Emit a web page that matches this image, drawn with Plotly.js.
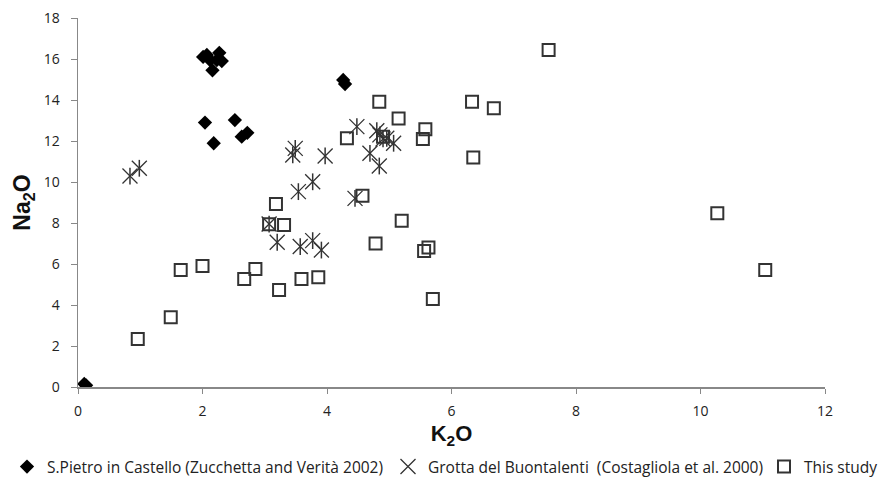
<!DOCTYPE html>
<html>
<head>
<meta charset="utf-8">
<script src="https://cdn.plot.ly/plotly-3.0.1.min.js"></script>
<style>html,body{margin:0;padding:0;background:#fff;}#chart{width:878px;height:479px;}</style>
</head>
<body>
<div id="chart"></div>
<script>
// S.Pietro in Castello (Zucchetta and Verità 2002)
const pietroK2O = [0.10, 0.13, 2.07, 2.27, 2.12, 2.23, 2.16, 2.01, 2.31, 4.26, 4.29, 2.04, 2.52, 2.18, 2.63, 2.72];
const pietroNa2O = [0.15, 0.08, 16.2, 16.3, 15.95, 15.95, 15.45, 16.1, 15.9, 14.98, 14.78, 12.9, 13.02, 11.89, 12.21, 12.4];

// Grotta del Buontalenti (Costagliola et al. 2000)
const grottaK2O = [0.835, 0.985, 4.48, 4.80, 4.85, 4.90, 4.96, 5.07, 4.69, 4.84, 3.49, 3.45, 3.97, 3.77, 3.54, 4.45, 3.07, 3.20, 3.57, 3.77, 3.91];
const grottaNa2O = [10.29, 10.67, 12.7, 12.5, 12.3, 12.1, 12.13, 11.89, 11.4, 10.78, 11.64, 11.32, 11.27, 10.01, 9.53, 9.2, 7.95, 7.06, 6.85, 7.14, 6.68];

// This study
const studyK2O = [0.96, 1.49, 1.65, 2.00, 2.67, 2.85, 3.23, 3.59, 3.86, 3.18, 3.07, 3.31, 4.57, 4.78, 5.20, 4.32, 4.84, 5.15, 4.90, 5.58, 5.54, 6.33, 6.68, 6.35, 5.63, 5.56, 5.70, 7.56, 10.27, 11.04];
const studyNa2O = [2.34, 3.40, 5.71, 5.90, 5.27, 5.76, 4.73, 5.27, 5.35, 8.93, 7.94, 7.90, 9.33, 7.00, 8.11, 12.13, 13.92, 13.10, 12.21, 12.57, 12.10, 13.92, 13.60, 11.20, 6.80, 6.63, 4.29, 16.44, 8.47, 5.71];

const xTicks = [0, 2, 4, 6, 8, 10, 12];
const yTicks = [0, 2, 4, 6, 8, 10, 12, 14, 16, 18];

const FONT = '"Open Sans", "Noto Sans", sans-serif';
const BOLD = '"Liberation Sans", Arial, sans-serif';

const traces = [
  {
    x: pietroK2O, y: pietroNa2O, type: 'scatter', mode: 'markers',
    name: 'S.Pietro in Castello (Zucchetta and Verità 2002)', legend: 'legend',
    marker: {symbol: 'diamond', size: 11, color: '#000', line: {width: 0}}
  },
  {
    x: grottaK2O, y: grottaNa2O, type: 'scatter', mode: 'markers',
    name: 'Grotta del Buontalenti  (Costagliola et al. 2000)', legendgroup: 'g', legend: 'legend2',
    marker: {symbol: 'x-thin-open', size: 15, color: '#333', line: {width: 1.3, color: '#333'}}
  },
  {
    x: grottaK2O, y: grottaNa2O, type: 'scatter', mode: 'markers',
    name: 'Grotta', legendgroup: 'g', legend: 'legend2', showlegend: false, hoverinfo: 'skip',
    marker: {symbol: 'line-ns-open', size: 12, color: '#333', line: {width: 1.5, color: '#333'}}
  },
  {
    x: studyK2O, y: studyNa2O, type: 'scatter', mode: 'markers',
    name: 'This study', legend: 'legend3',
    marker: {symbol: 'square-open', size: 12, color: '#333', line: {width: 2, color: '#333'}}
  }
];

const PLOT_L = 78, PLOT_W = 747, PLOT_B = 387, PLOT_H = 369;
const legX = px => (px - PLOT_L) / PLOT_W;
const legY = py => (PLOT_B - py) / PLOT_H;
const legBase = {
  orientation: 'h', xanchor: 'left', yanchor: 'middle', y: legY(467),
  font: {family: FONT, size: 15.5, color: '#222'},
  bgcolor: 'rgba(0,0,0,0)', itemwidth: 30
};

const layout = {
  width: 878, height: 479,
  margin: {l: 78, r: 53, t: 18, b: 92, autoexpand: false},
  paper_bgcolor: '#fff', plot_bgcolor: '#fff',
  font: {family: FONT, size: 14, color: '#222'},
  showlegend: true,
  legend: Object.assign({}, legBase, {x: legX(7)}),
  legend2: Object.assign({}, legBase, {x: legX(388)}),
  legend3: Object.assign({}, legBase, {x: legX(764)}),
  xaxis: {
    range: [0, 12], tickvals: xTicks, ticktext: xTicks.map(String),
    automargin: false,
    showgrid: false, zeroline: false, showline: true, linecolor: '#888', linewidth: 1.5,
    ticks: 'outside', ticklen: 5, tickcolor: '#888', tickwidth: 1,
    ticklabelstandoff: 6,
    tickfont: {family: FONT, size: 14, color: '#222'},
    title: {text: 'K<sub>2</sub>O', font: {family: BOLD, size: 22, color: '#111', weight: 'bold'}, standoff: 6}
  },
  yaxis: {
    range: [0, 18], tickvals: yTicks, ticktext: yTicks.map(String),
    automargin: false,
    showgrid: false, zeroline: false, showline: true, linecolor: '#888', linewidth: 1.5,
    ticks: 'outside', ticklen: 6, tickcolor: '#888', tickwidth: 1,
    ticklabelstandoff: 8,
    tickfont: {family: FONT, size: 14, color: '#222'},
    title: {text: 'Na<sub>2</sub>O', font: {family: BOLD, size: 23, color: '#111', weight: 'bold'}, standoff: 6}
  }
};

Plotly.newPlot('chart', traces, layout, {staticPlot: true, displayModeBar: false});
</script>
</body>
</html>
